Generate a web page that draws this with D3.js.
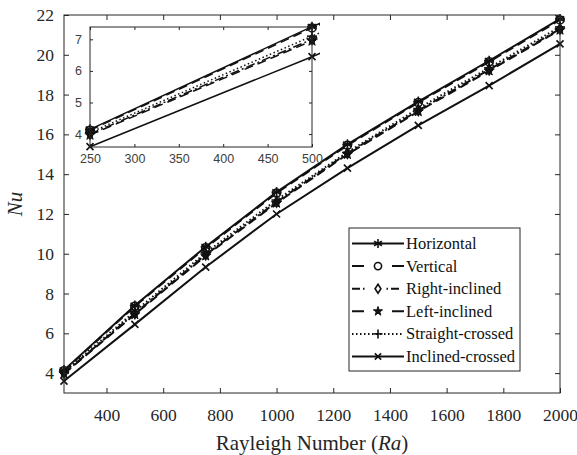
<!DOCTYPE html>
<html>
<head>
<meta charset="utf-8">
<script src="https://cdnjs.cloudflare.com/ajax/libs/d3/7.8.5/d3.min.js"></script>
<style>
  body { margin: 0; background: #fff; }
</style>
</head>
<body>
<svg class="chart" width="577" height="455"></svg>
<script>
// Nusselt number vs Rayleigh number, six fin arrangements
var ra = [250, 500, 750, 1000, 1250, 1500, 1750, 2000];
var seriesNames = ["Horizontal", "Vertical", "Right-inclined", "Left-inclined", "Straight-crossed", "Inclined-crossed"];
var horizontal = [4.15, 7.40, 10.35, 13.10, 15.50, 17.65, 19.70, 21.80];
var vertical = [4.12, 7.36, 10.30, 13.05, 15.45, 17.60, 19.65, 21.75];
var rightInclined = [4.00, 7.00, 9.95, 12.60, 15.05, 17.20, 19.25, 21.30];
var leftInclined = [3.97, 6.95, 9.90, 12.55, 15.00, 17.15, 19.20, 21.25];
var straightCrossed = [4.05, 7.10, 10.05, 12.70, 15.10, 17.30, 19.35, 21.40];
var inclinedCrossed = [3.60, 6.45, 9.33, 12.00, 14.30, 16.45, 18.45, 20.55];
var xTicks = [400, 600, 800, 1000, 1200, 1400, 1600, 1800, 2000];
var yTicks = [4, 6, 8, 10, 12, 14, 16, 18, 20, 22];
var insetXTicks = [250, 300, 350, 400, 450, 500];
var insetYTicks = [4, 5, 6, 7];

var serif = "Liberation Serif, Tinos, Times New Roman, Times, DejaVu Serif, serif";
var sans = "Liberation Sans, Arimo, Arial, sans-serif";

var allValues = [horizontal, vertical, rightInclined, leftInclined, straightCrossed, inclinedCrossed];
var dashes = [null, "9,5", "9,3,2,3", "9,5", "1.5,2.5", null];
// legend samples are short, so they get their own patterns (like matlab draws them)
var legendDashes = [null, "12,28,12", "8,3,1.5,22,1.5,3,8", "12,28,12", "1.5,2.5", null];
var markers = ["asterisk", "circle", "diamond", "star", "plus", "cross"];

var series = seriesNames.map(function(n, i) {
    return { name: n, dash: dashes[i], ldash: legendDashes[i], marker: markers[i],
             values: ra.map(function(r, j) { return { x: r, y: allValues[i][j] }; }) };
});

var svg = d3.select(".chart");
var ink = "#111";

function drawMarker(g, type, x, y, s) {
    var m = g.append("g").attr("transform", "translate(" + x + "," + y + ")")
        .attr("stroke", ink).attr("stroke-width", 1.6).attr("fill", "none");
    if (type == "asterisk") {
        [0, 60, 120].forEach(function(a) {
            m.append("line").attr("x1", 0).attr("y1", -s).attr("x2", 0).attr("y2", s)
                .attr("transform", "rotate(" + a + ")");
        });
        m.append("line").attr("x1", -s).attr("x2", s).attr("y1", 0).attr("y2", 0);
    } else if (type == "circle") {
        m.append("circle").attr("r", s * 0.8);
    } else if (type == "diamond") {
        m.append("path").attr("d", "M0," + (-s) + "L" + (s * 0.65) + ",0L0," + s + "L" + (-s * 0.65) + ",0Z");
    } else if (type == "star") {
        m.append("path").attr("d", d3.symbol().type(d3.symbolStar).size(s * s * 1.3)())
            .attr("fill", ink).attr("stroke-width", 1);
    } else if (type == "plus") {
        m.append("line").attr("x1", -s).attr("x2", s).attr("y1", 0).attr("y2", 0);
        m.append("line").attr("y1", -s).attr("y2", s).attr("x1", 0).attr("x2", 0);
    } else if (type == "cross") {
        var c = s * 0.7;
        m.append("line").attr("x1", -c).attr("y1", -c).attr("x2", c).attr("y2", c);
        m.append("line").attr("x1", -c).attr("y1", c).attr("x2", c).attr("y2", -c);
    }
}

function drawPlot(g, x, y, msize, lw) {
    var line = d3.line().x(function(d) { return x(d.x); }).y(function(d) { return y(d.y); });
    series.forEach(function(s) {
        g.append("path").datum(s.values)
            .attr("d", line)
            .attr("fill", "none")
            .attr("stroke", ink)
            .attr("stroke-width", lw)
            .attr("stroke-dasharray", s.dash);
    });
    series.forEach(function(s) {
        s.values.forEach(function(d) {
            if (d.x >= x.domain()[0] && d.x <= x.domain()[1]) drawMarker(g, s.marker, x(d.x), y(d.y), msize);
        });
    });
}

function boxAxes(g, x, y, w, h, xt, yt, font, fs, tl, col, xpad) {
    var ax = [];
    ax.push(g.append("g").attr("transform", "translate(0," + h + ")")
        .call(d3.axisBottom(x).tickValues(xt).tickSize(-tl).tickPadding(xpad).tickFormat(d3.format("d"))));
    ax.push(g.append("g")
        .call(d3.axisLeft(y).tickValues(yt).tickSize(-tl).tickPadding(tl + 5).tickFormat(d3.format("d"))));
    ax.push(g.append("g")
        .call(d3.axisTop(x).tickValues(xt).tickSize(-tl).tickFormat("")));
    ax.push(g.append("g").attr("transform", "translate(" + w + ",0)")
        .call(d3.axisRight(y).tickValues(yt).tickSize(-tl).tickFormat("")));
    ax.forEach(function(a) {
        a.select(".domain").remove();
        // d3 puts font-family on the axis group, override it there
        a.attr("font-family", font).attr("font-size", fs);
    });
    g.selectAll(".tick text").attr("fill", col);
    g.selectAll(".tick line").attr("stroke", "#262626");
    g.append("rect").attr("width", w).attr("height", h)
        .attr("fill", "none").attr("stroke", "#262626").attr("stroke-width", 1);
}

// main axes
var margin = {top: 15, right: 17, bottom: 62, left: 64},
    width = 577 - margin.left - margin.right,
    height = 455 - margin.top - margin.bottom;

var g = svg.append("g").attr("class", "main")
    .attr("transform", "translate(" + margin.left + "," + margin.top + ")");

var x = d3.scaleLinear().domain([250, 2000]).range([0, width]);
var y = d3.scaleLinear().domain([3, 22]).range([height, 0]);

svg.append("defs").append("clipPath").attr("id", "clipMain")
    .append("rect").attr("x", -6).attr("y", -6).attr("width", width + 12).attr("height", height + 12);

drawPlot(g.append("g").attr("clip-path", "url(#clipMain)"), x, y, 5, 2);
boxAxes(g, x, y, width, height, xTicks, yTicks, serif, 17.5, 5, "#262626", 16);

g.append("text")
    .attr("x", width / 2).attr("y", height + 57)
    .attr("text-anchor", "middle")
    .attr("font-family", serif).attr("font-size", 21).attr("fill", "#262626")
    .html("Rayleigh Number (<tspan font-style='italic'>Ra</tspan>)");

g.append("text")
    .attr("transform", "translate(" + (-42) + "," + (height / 2) + ") rotate(-90)")
    .attr("text-anchor", "middle")
    .attr("font-family", serif).attr("font-size", 21).attr("font-style", "italic")
    .attr("fill", "#262626")
    .text("Nu");

// legend
var legend = g.append("g").attr("transform", "translate(" + (349 - margin.left) + "," + (228 - margin.top) + ")");
legend.append("rect").attr("width", 171).attr("height", 143)
    .attr("fill", "#fff").attr("stroke", "#262626").attr("stroke-width", 1);
series.forEach(function(s, i) {
    var ly = 15.5 + i * 22.6;
    legend.append("line").attr("x1", 3).attr("x2", 55).attr("y1", ly).attr("y2", ly)
        .attr("stroke", ink).attr("stroke-width", 2).attr("stroke-dasharray", s.ldash);
    drawMarker(legend, s.marker, 29, ly, 4.5);
    legend.append("text").attr("x", 57).attr("y", ly + 5.5)
        .attr("font-family", serif).attr("font-size", 16.5).attr("fill", "#111")
        .text(s.name);
});

// inset zoom on the low Ra range
var inset = svg.append("g").attr("class", "inset").attr("transform", "translate(90,27)");
var iw = 222, ih = 120;
var ix = d3.scaleLinear().domain([250, 500]).range([0, iw]);
var iy = d3.scaleLinear().domain([3.59, 7.39]).range([ih, 0]);
inset.append("rect").attr("width", iw).attr("height", ih).attr("fill", "#fff");
svg.select("defs").append("clipPath").attr("id", "clipInset")
    .append("rect").attr("x", -8).attr("y", -8).attr("width", iw + 16).attr("height", ih + 16);
drawPlot(inset.append("g").attr("clip-path", "url(#clipInset)"), ix, iy, 5, 1.5);
boxAxes(inset, ix, iy, iw, ih, insetXTicks, insetYTicks, sans, 12.5, 3, "#404040", 7);
</script>
</body>
</html>
